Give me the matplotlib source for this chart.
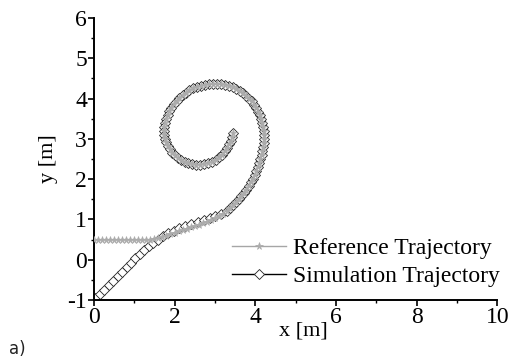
import matplotlib.pyplot as plt
from matplotlib.ticker import MultipleLocator

# reference path: straight run at y=0.5, then bends up into the spiral
ref_lead_x = [0.00, 0.10, 0.20, 0.30, 0.40, 0.50, 0.60, 0.70, 0.80, 0.90, 1.00,
              1.10, 1.20, 1.30, 1.40, 1.50, 1.60, 1.70, 1.80, 1.90, 2.00, 2.10,
              2.20, 2.30, 2.40, 2.50, 2.60, 2.70, 2.80, 2.90, 3.00, 3.10, 3.20]
ref_lead_y = [0.50, 0.50, 0.50, 0.50, 0.50, 0.50, 0.50, 0.50, 0.50, 0.50, 0.50,
              0.50, 0.50, 0.50, 0.50, 0.51, 0.535, 0.565, 0.60, 0.635, 0.67, 0.70,
              0.735, 0.77, 0.80, 0.835, 0.87, 0.905, 0.945, 0.985, 1.03, 1.08, 1.145]

# simulated robot starting from (0,-1) and converging onto the reference
sim_lead_x = [0.04, 0.15, 0.26, 0.37, 0.48, 0.59, 0.70, 0.81, 0.92, 1.03,
              1.14, 1.25, 1.36, 1.47, 1.585, 1.71, 1.84, 1.98, 2.12, 2.27,
              2.42, 2.57, 2.72, 2.87, 3.01, 3.15]
sim_lead_y = [-0.96, -0.85, -0.74, -0.63, -0.52, -0.41, -0.30, -0.19, -0.08, 0.03,
              0.13, 0.235, 0.33, 0.42, 0.50, 0.58, 0.655, 0.72, 0.775, 0.83,
              0.88, 0.93, 0.98, 1.03, 1.08, 1.14]

# shared spiral section (both trajectories overlap here)
spiral_x = [3.29, 3.37, 3.45, 3.52, 3.59, 3.66, 3.72, 3.78, 3.84, 3.89, 3.94, 3.99,
            4.03, 4.07, 4.10, 4.13, 4.16, 4.18, 4.20, 4.21, 4.22, 4.22, 4.21, 4.20,
            4.18, 4.15, 4.12, 4.08, 4.03, 3.98, 3.92, 3.85, 3.78, 3.70, 3.62, 3.53,
            3.44, 3.35, 3.25, 3.15, 3.05, 2.95, 2.85, 2.75, 2.65, 2.55, 2.46, 2.37,
            2.28, 2.20, 2.12, 2.05, 1.98, 1.92, 1.87, 1.83, 1.79, 1.76, 1.74, 1.74,
            1.74, 1.76, 1.79, 1.83, 1.88, 1.94, 2.01, 2.08, 2.16, 2.25, 2.34, 2.44,
            2.54, 2.64, 2.74, 2.84, 2.93, 3.02, 3.10, 3.18, 3.25, 3.31, 3.36, 3.40,
            3.43, 3.45]
spiral_y = [1.22, 1.28, 1.35, 1.42, 1.50, 1.58, 1.66, 1.74, 1.83, 1.92, 2.01, 2.10,
            2.20, 2.29, 2.39, 2.49, 2.59, 2.69, 2.79, 2.89, 2.99, 3.09, 3.19, 3.29,
            3.39, 3.49, 3.58, 3.67, 3.76, 3.85, 3.93, 4.00, 4.07, 4.13, 4.19, 4.24,
            4.28, 4.31, 4.34, 4.35, 4.36, 4.36, 4.35, 4.34, 4.32, 4.29, 4.25, 4.20,
            4.14, 4.08, 4.01, 3.94, 3.86, 3.77, 3.68, 3.59, 3.50, 3.40, 3.30, 3.20,
            3.10, 3.00, 2.91, 2.82, 2.74, 2.66, 2.59, 2.53, 2.47, 2.43, 2.39, 2.37,
            2.36, 2.36, 2.37, 2.40, 2.43, 2.48, 2.54, 2.61, 2.69, 2.77, 2.86, 2.95,
            3.05, 3.15]

ref_x = ref_lead_x + spiral_x
ref_y = ref_lead_y + spiral_y
sim_x = sim_lead_x + spiral_x
sim_y = sim_lead_y + spiral_y

plt.rcParams['font.family'] = ['Liberation Serif', 'DejaVu Serif']
plt.rcParams['axes.unicode_minus'] = False

fig = plt.figure(figsize=(5.1, 3.58), dpi=100)
ax = fig.add_axes([0.184, 0.162, 0.791, 0.788])

ax.plot(sim_x, sim_y, color="black", linewidth=1.0, marker="D", markersize=4.9,
        markerfacecolor="white", markeredgecolor="#222222", markeredgewidth=0.6,
        label="Simulation Trajectory", zorder=2)
ax.plot(ref_x, ref_y, color="#a6a6a6", linewidth=1.0, marker="*", markersize=5.5,
        markerfacecolor="#acacac", markeredgecolor="#acacac", markeredgewidth=0.5,
        label="Reference Trajectory", zorder=3)

ax.set_xlim(0, 10)
ax.set_ylim(-1, 6)
ax.xaxis.set_major_locator(MultipleLocator(2))
ax.xaxis.set_minor_locator(MultipleLocator(1))
ax.yaxis.set_major_locator(MultipleLocator(1))
ax.yaxis.set_minor_locator(MultipleLocator(0.5))

for side in ["top", "right"]:
    ax.spines[side].set_visible(False)
for side in ["left", "bottom"]:
    ax.spines[side].set_linewidth(1.4)

ax.tick_params(which="major", direction="out", length=4, width=1.2, labelsize=17, pad=1)
ax.tick_params(which="minor", direction="out", length=2.5, width=1.0)

ax.set_xlabel("x [m]", fontsize=16)
ax.xaxis.set_label_coords(0.52, -0.075)
ax.set_ylabel("y [m]", fontsize=16)
ax.yaxis.set_label_coords(-0.088, 0.5)

handles, labels = ax.get_legend_handles_labels()
leg = ax.legend(handles[::-1], labels[::-1], loc="lower right", frameon=False,
                fontsize=17, handlelength=2.3, handletextpad=0.3, labelspacing=0.28,
                borderaxespad=0.0, bbox_to_anchor=(1.03, 0.012))

fig.text(0.018, 0.0, "a)", fontsize=12, family="DejaVu Sans", color="#222222",
         va="bottom")

fig.savefig("out.png", dpi=100)
